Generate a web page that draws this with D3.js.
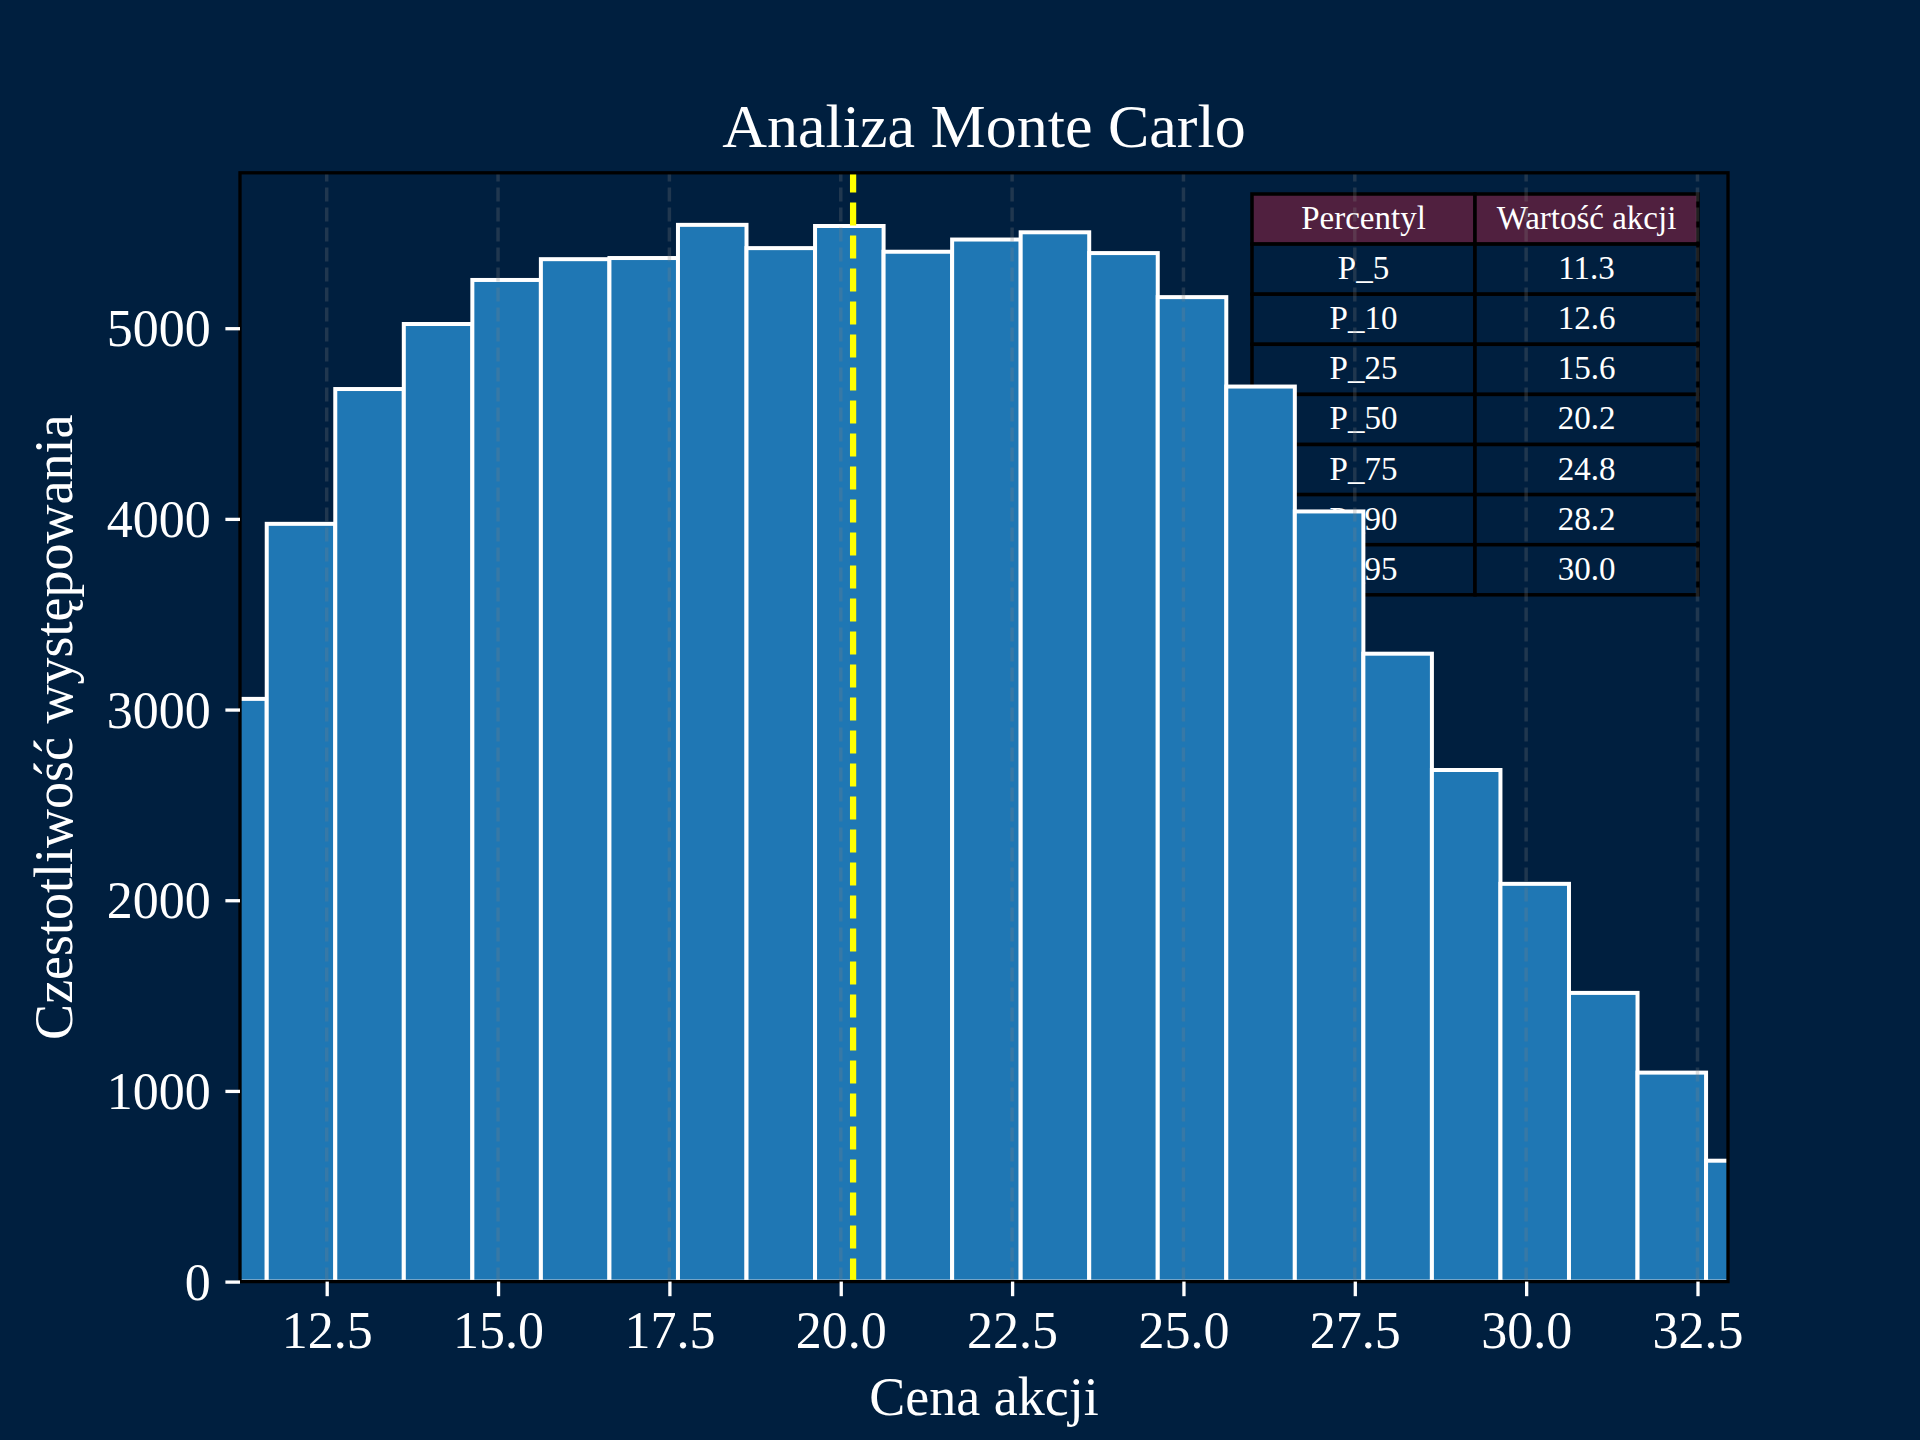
<!DOCTYPE html>
<html>
<head>
<meta charset="utf-8">
<script src="https://d3js.org/d3.v7.min.js"></script>
<style>
  html, body { margin: 0; padding: 0; background: #001f3f; }
  svg { display: block; }
</style>
</head>
<body>
<script>
// ---- Data ----
const binStart = 10.625;      // left edge of first bin
const binWidth = 1.0;
const counts = [3056, 3974, 4681, 5022, 5253, 5362, 5368, 5542, 5420, 5536, 5401, 5465,
                5503, 5394, 5163, 4694, 4039, 3293, 2683, 2086, 1514, 1096, 634];
const xDomain = [11.235, 32.945];
const yDomain = [0, 5815];
const xTicks = [12.5, 15.0, 17.5, 20.0, 22.5, 25.0, 27.5, 30.0, 32.5];
const yTicks = [0, 1000, 2000, 3000, 4000, 5000];
const medianValue = 20.18;
const tableHeader = ["Percentyl", "Wartość akcji"];
const percentileLabels = ["P_5", "P_10", "P_25", "P_50", "P_75", "P_90", "P_95"];
const percentileValues = [11.3, 12.6, 15.6, 20.2, 24.8, 28.2, 30.0];
const titleText = "Analiza Monte Carlo";
const xLabelText = "Cena akcji";
const yLabelText = "Czestotliwość występowania";

// ---- Layout ----
const W = 1920, H = 1440;
const L = 240, R = 1728, T = 172.8, B = 1281.6;
const font = "'Liberation Serif', 'Times New Roman', serif";
const bg = "#001f3f";

const svg = d3.select("body").append("svg").attr("width", W).attr("height", H);
svg.append("rect").attr("width", W).attr("height", H).attr("fill", bg);

const x = d3.scaleLinear().domain(xDomain).range([L, R]);
const y = d3.scaleLinear().domain(yDomain).range([B, T]);

svg.append("defs").append("clipPath").attr("id", "clip")
  .append("rect").attr("x", L).attr("y", T).attr("width", R - L).attr("height", B - T);

const plot = svg.append("g").attr("clip-path", "url(#clip)");

// ---- Table (drawn beneath bars) ----
const tblLeft = 1252, tblSplit = 1475, tblRight = 1698, tblTop = 194, rowH = 50.1;
const rows = [tableHeader].concat(percentileLabels.map((p, i) => [p, percentileValues[i].toFixed(1)]));
const colX = [[tblLeft, tblSplit], [tblSplit, tblRight]];
const tbl = plot.append("g");
rows.forEach((row, ri) => {
  row.forEach((txt, ci) => {
    const x0 = colX[ci][0], x1 = colX[ci][1];
    const y0 = tblTop + ri * rowH;
    tbl.append("rect")
      .attr("x", x0).attr("y", y0).attr("width", x1 - x0).attr("height", rowH)
      .attr("fill", ri === 0 ? "#50203f" : bg)
      .attr("stroke", "#000").attr("stroke-width", 3.5);
    tbl.append("text")
      .attr("x", (x0 + x1) / 2).attr("y", y0 + rowH / 2 + 10)
      .attr("text-anchor", "middle")
      .attr("fill", "#fff").attr("font-family", font).attr("font-size", 33)
      .text(txt);
  });
});

// ---- Bars ----
plot.selectAll("rect.bar").data(counts).enter().append("rect")
  .attr("class", "bar")
  .attr("x", (d, i) => x(binStart + i * binWidth))
  .attr("width", (d, i) => x(binStart + (i + 1) * binWidth) - x(binStart + i * binWidth))
  .attr("y", d => y(d))
  .attr("height", d => y(0) - y(d))
  .attr("fill", "#1f77b4")
  .attr("stroke", "#fff")
  .attr("stroke-width", 4);

// ---- Grid (vertical, dashed) ----
plot.selectAll("line.grid").data(xTicks).enter().append("line")
  .attr("x1", d => x(d)).attr("x2", d => x(d))
  .attr("y1", B).attr("y2", T)
  .attr("stroke", "#808080").attr("stroke-opacity", 0.25)
  .attr("stroke-width", 3.5).attr("stroke-dasharray", "14,6");

// ---- Median line ----
plot.append("line")
  .attr("x1", x(medianValue)).attr("x2", x(medianValue))
  .attr("y1", B).attr("y2", T)
  .attr("stroke", "#ffff00").attr("stroke-width", 6.25)
  .attr("stroke-dasharray", "23,10");

// ---- Spines ----
svg.append("rect").attr("x", L).attr("y", T).attr("width", R - L).attr("height", B - T)
  .attr("fill", "none").attr("stroke", "#000").attr("stroke-width", 3.3);

// ---- Axes ----
const xAxis = d3.axisBottom(x).tickValues(xTicks).tickFormat(d3.format(".1f"))
  .tickSizeInner(14.6).tickSizeOuter(0).tickPadding(14.6);
const gx = svg.append("g").attr("transform", `translate(0,${B})`).call(xAxis);
gx.select(".domain").remove();
gx.selectAll(".tick line").attr("stroke", "#fff").attr("stroke-width", 3.3);
gx.selectAll(".tick text").attr("fill", "#fff").attr("font-family", font)
  .attr("font-size", 52).attr("dy", null).attr("y", 66.5);

const yAxis = d3.axisLeft(y).tickValues(yTicks).tickFormat(d3.format("d"))
  .tickSizeInner(14.6).tickSizeOuter(0).tickPadding(14.6);
const gy = svg.append("g").attr("transform", `translate(${L},0)`).call(yAxis);
gy.select(".domain").remove();
gy.selectAll(".tick line").attr("stroke", "#fff").attr("stroke-width", 3.3);
gy.selectAll(".tick text").attr("fill", "#fff").attr("font-family", font)
  .attr("font-size", 52).attr("dy", "0.34em");

// ---- Titles ----
svg.append("text").attr("x", (L + R) / 2).attr("y", 147)
  .attr("text-anchor", "middle").attr("fill", "#fff")
  .attr("font-family", font).attr("font-size", 62).text(titleText);

svg.append("text").attr("x", (L + R) / 2).attr("y", 1415)
  .attr("text-anchor", "middle").attr("fill", "#fff")
  .attr("font-family", font).attr("font-size", 54).text(xLabelText);

svg.append("text").attr("transform", `translate(72,${(T + B) / 2}) rotate(-90)`)
  .attr("text-anchor", "middle").attr("fill", "#fff")
  .attr("font-family", font).attr("font-size", 54).text(yLabelText);
</script>
</body>
</html>
